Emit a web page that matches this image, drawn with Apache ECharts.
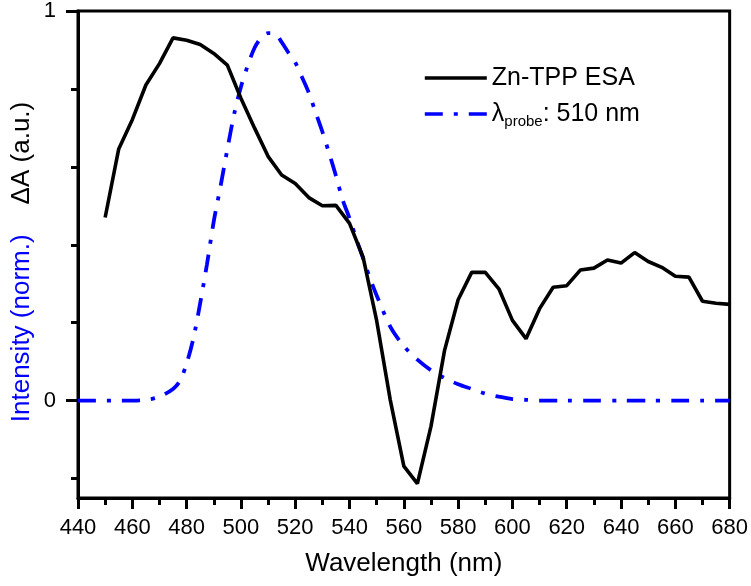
<!DOCTYPE html>
<html>
<head>
<meta charset="utf-8">
<script src="https://cdn.jsdelivr.net/npm/echarts@6/dist/echarts.min.js"></script>
<style>
  html, body { margin: 0; padding: 0; background: #fff; }
  #chart { width: 751px; height: 586px; }
</style>
</head>
<body>
<div id="chart"></div>
<script>
// Zn-TPP excited-state absorption, 5 nm steps
const esaWl = [450, 455, 460, 465, 470, 475, 480, 485, 490, 495, 500, 505, 510, 515, 520, 525,
  530, 535, 540, 545, 550, 555, 560, 565, 570, 575, 580, 585, 590, 595, 600, 605, 610, 615,
  620, 625, 630, 635, 640, 645, 650, 655, 660, 665, 670, 675, 680];
const esaVals = [0.47, 0.646, 0.721, 0.81, 0.865, 0.931, 0.925, 0.914, 0.891, 0.861, 0.776, 0.70,
  0.627, 0.579, 0.557, 0.521, 0.50, 0.501, 0.455, 0.368, 0.205, 0.002, -0.168, -0.213, -0.066,
  0.129, 0.259, 0.329, 0.329, 0.287, 0.206, 0.159, 0.236, 0.291, 0.295, 0.335, 0.34, 0.361,
  0.353, 0.38, 0.357, 0.342, 0.319, 0.317, 0.255, 0.25, 0.247];

// probe pulse spectrum (normalized)
const probeWl = [440, 445, 450, 455, 460, 465, 470, 475, 477.5, 480, 482.5, 485, 487.5, 490,
  492.5, 495, 497.5, 500, 502.5, 505, 507.5, 510, 512.5, 515, 517.5, 520, 522.5, 525, 527.5,
  530, 532.5, 535, 537.5, 540, 542.5, 545, 547.5, 550, 555, 560, 565, 570, 575, 580, 585, 590,
  595, 600, 605, 610, 620, 630, 640, 650, 660, 670, 680];
const probeVals = [0, 0, 0, 0, 0, 0.002, 0.01, 0.03, 0.05, 0.095, 0.16, 0.25, 0.35, 0.46,
  0.55, 0.645, 0.735, 0.805, 0.86, 0.905, 0.932, 0.943, 0.942, 0.92, 0.893, 0.868, 0.83, 0.79,
  0.74, 0.69, 0.635, 0.577, 0.515, 0.468, 0.415, 0.365, 0.315, 0.27, 0.19, 0.14, 0.105, 0.078,
  0.058, 0.042, 0.03, 0.018, 0.01, 0.004, 0.002, 0, 0, 0, 0, 0, 0, 0, 0];

const majorY = [0, 1];
const minorY = [-0.2, 0.2, 0.4, 0.6, 0.8];

const FONT = "Liberation Sans, Arial, sans-serif";
const chart = echarts.init(document.getElementById("chart"));

const yBase = {
  type: "value",
  min: -0.25,
  max: 1,
  position: "left",
  splitLine: { show: false },
};

chart.setOption({
  animation: false,
  grid: { left: 78, right: 20, top: 9, bottom: 88, show: true, borderColor: "#000", borderWidth: 3 },
  legend: {
    orient: "vertical",
    left: 418,
    top: 58,
    itemWidth: 62,
    itemHeight: 14,
    itemGap: 6,
    data: ["Zn-TPP ESA", "probe"],
    itemStyle: { opacity: 0 },
    lineStyle: { width: 3.6 },
    textStyle: {
      fontFamily: FONT,
      fontSize: 25,
      color: "#000",
      lineHeight: 30,
      rich: {
        a: { fontFamily: FONT, fontSize: 25, color: "#000", lineHeight: 30 },
        s: { fontFamily: FONT, fontSize: 15, color: "#000", lineHeight: 12, verticalAlign: "bottom" },
      },
    },
    formatter: (name) => (name === "probe" ? "{a|λ}{s|probe}{a|: 510 nm}" : name),
  },
  xAxis: {
    type: "value",
    min: 440,
    max: 680,
    interval: 20,
    axisLine: { onZero: false, lineStyle: { color: "#000", width: 3 } },
    axisTick: { length: 11, lineStyle: { color: "#000", width: 3 } },
    minorTick: { show: true, splitNumber: 2, length: 7, lineStyle: { color: "#000", width: 3 } },
    axisLabel: { fontFamily: FONT, fontSize: 22, color: "#000", margin: 19 },
    splitLine: { show: false },
    name: "Wavelength (nm)",
    nameLocation: "middle",
    nameGap: 53,
    nameTextStyle: { fontFamily: FONT, fontSize: 26, color: "#000" },
  },
  yAxis: [
    {
      ...yBase,
      axisLine: { show: true, lineStyle: { color: "#000", width: 3 } },
      axisTick: { show: true, length: 12, customValues: majorY, lineStyle: { color: "#000", width: 3 } },
      axisLabel: { customValues: majorY, fontFamily: FONT, fontSize: 22, color: "#000", margin: 22 },
    },
    {
      ...yBase,
      axisLine: { show: false },
      axisTick: { show: true, length: 7, customValues: minorY, lineStyle: { color: "#000", width: 3 } },
      axisLabel: { show: false },
    },
  ],
  graphic: [
    {
      type: "text",
      x: 22,
      y: 262,
      rotation: Math.PI / 2,
      style: {
        text: "{b|Intensity (norm.)}{g|}{k|ΔA (a.u.)}",
        align: "center",
        verticalAlign: "middle",
        fontFamily: FONT,
        fontSize: 26,
        rich: {
          b: { fill: "#0000ff", fontFamily: FONT, fontSize: 26 },
          g: { width: 30 },
          k: { fill: "#000", fontFamily: FONT, fontSize: 26 },
        },
      },
    },
  ],
  series: [
    {
      name: "Zn-TPP ESA",
      type: "line",
      symbol: "none",
      data: esaWl.map((w, i) => [w, esaVals[i]]),
      lineStyle: { color: "#000", width: 3.6 },
      itemStyle: { color: "#000" },
      z: 3,
    },
    {
      name: "probe",
      type: "line",
      symbol: "none",
      smooth: 0.3,
      data: probeWl.map((w, i) => [w, probeVals[i]]),
      lineStyle: { color: "#0000ff", width: 3.8, type: [18, 11, 4, 11], cap: "butt" },
      itemStyle: { color: "#0000ff" },
      z: 2,
    },
  ],
});
</script>
</body>
</html>
